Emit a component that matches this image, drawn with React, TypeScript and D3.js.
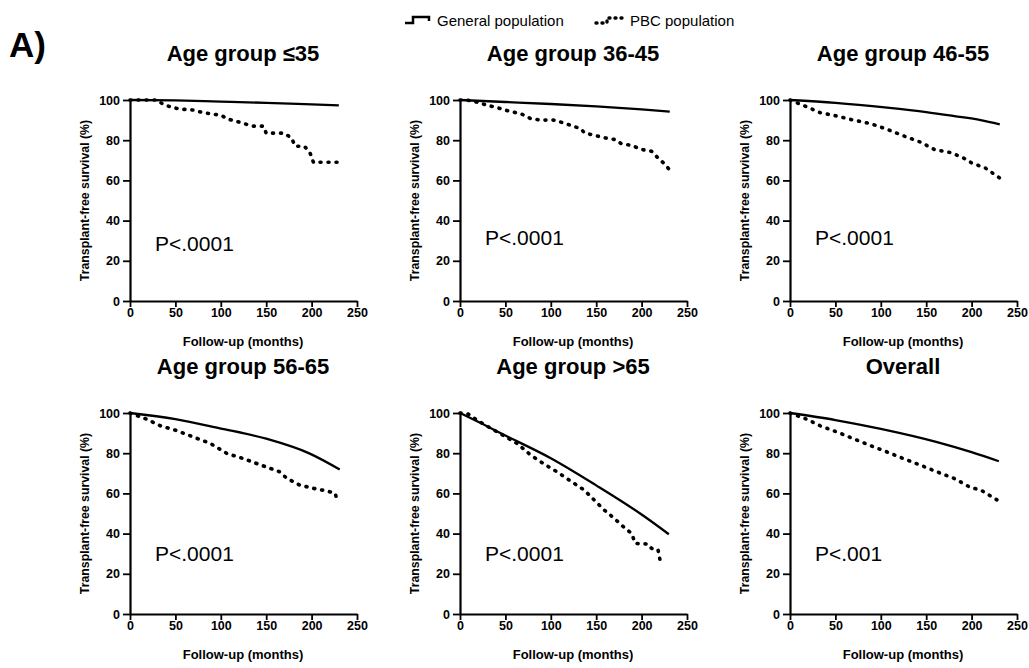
import React, { useEffect, useRef } from "react";
import * as d3 from "d3";

// panel titles and p-values
const panelTitles = [
  "Age group \u226435",
  "Age group 36-45",
  "Age group 46-55",
  "Age group 56-65",
  "Age group >65",
  "Overall",
];
const pValues = ["P<.0001", "P<.0001", "P<.0001", "P<.0001", "P<.0001", "P<.001"];

const xTicks = [0, 50, 100, 150, 200, 250];
const yTicks = [0, 20, 40, 60, 80, 100];

// [month, survival %]
const general35 = [[0, 100], [50, 99.8], [100, 99.2], [150, 98.6], [200, 97.8], [230, 97.3]];
const pbc35 = [
  [0, 100], [30, 100], [36, 98], [45, 96.5], [55, 95.5], [70, 95], [78, 94], [90, 93],
  [100, 92.5], [108, 90.5], [120, 89], [135, 87], [147, 87], [150, 83.5], [170, 83.5],
  [178, 81], [182, 77], [192, 77], [198, 74], [202, 69], [230, 69],
];

const general3645 = [[0, 100], [50, 99], [100, 98], [150, 96.8], [200, 95.3], [231, 94.2]];
const pbc3645 = [
  [0, 100], [7, 100], [18, 99], [30, 97.4], [41, 96.2], [56, 94.2], [67, 93.2], [78, 90.7],
  [89, 90], [103, 90], [111, 89], [122, 87.4], [133, 85.7], [137, 83.7], [148, 82.4],
  [159, 81.2], [170, 80.4], [178, 78.2], [189, 77.4], [200, 75.4], [211, 74.5],
  [218, 71.2], [226, 67.9], [231, 65.1],
];

const general4655 = [[0, 100], [50, 98.6], [107, 96.2], [150, 94], [181, 92], [210, 90], [231, 87.9]];
const pbc4655 = [
  [0, 100], [18, 96.7], [33, 93.7], [52, 92], [70, 90], [89, 88.2], [107, 85.4], [126, 82],
  [144, 79], [159, 75.4], [178, 73.7], [193, 70.7], [200, 68.7], [215, 66.2], [231, 61.2],
];

const general5665 = [[0, 100], [50, 97], [99, 92.4], [150, 87.2], [198, 79.8], [231, 71.9]];
const pbc5665 = [
  [0, 100], [18, 97], [33, 93.7], [51, 91.3], [70, 88], [88, 85], [107, 79.8], [125, 77.3],
  [143, 74.3], [165, 70.7], [173, 67.4], [187, 64.1], [202, 62.5], [217, 61.2], [226, 60],
  [228, 56.7],
];

const general65 = [[0, 100], [25, 94.5], [50, 88.8], [100, 77.5], [150, 64], [200, 49.5], [230, 39.7]];
const pbc65 = [
  [0, 100], [9, 99.5], [18, 96.7], [30, 93.4], [44, 89.8], [63, 84.8], [78, 79], [93, 74.5],
  [107, 70.7], [126, 64.9], [137, 61.6], [148, 56.6], [159, 51.7], [170, 47.5], [182, 42.6],
  [189, 40.1], [193, 35.1], [207, 34.8], [211, 32.6], [218, 32.1], [221, 25.2], [224, 25.2],
];

const generalAll = [[0, 100], [50, 96.5], [100, 92.1], [162, 85.5], [200, 80.5], [230, 76]];
const pbcAll = [
  [0, 100], [18, 97], [33, 93.7], [52, 90.5], [70, 87.2], [88, 83.9], [107, 80.6], [125, 77.3],
  [144, 74], [162, 70.7], [181, 67.4], [199, 62.9], [210, 61.7], [230, 56.2],
];

const generalSeries = [general35, general3645, general4655, general5665, general65, generalAll];
const pbcSeries = [pbc35, pbc3645, pbc4655, pbc5665, pbc65, pbcAll];

const FONT = "'Liberation Sans', Arial, Helvetica, sans-serif";

export default function App() {
  const ref = useRef<SVGSVGElement>(null);

  useEffect(() => {
    const svg = d3.select(ref.current);
    svg.selectAll("*").remove();

    const width = 1029;
    const height = 668;
    svg.append("rect").attr("width", width).attr("height", height).attr("fill", "#fff");

    const lefts = [130, 460, 790];
    const tops = [100, 413];
    const pw = 227;
    const ph = 201;
    const pLabelY = [25, 28, 28, 26.5, 26.5, 26.5];

    // figure letter
    svg.append("text")
      .attr("x", 9).attr("y", 57)
      .style("font-family", FONT).style("font-weight", "bold").style("font-size", "35px")
      .text("A)");

    // legend
    const legend = svg.append("g");
    legend.append("path")
      .attr("d", "M405,23H413V17H429V21")
      .attr("fill", "none").attr("stroke", "#000").attr("stroke-width", 2.5);
    legend.append("text")
      .attr("x", 437).attr("y", 26)
      .style("font-family", FONT).style("font-size", "15px")
      .text("General population");
    legend.append("path")
      .attr("d", "M596,23H607V18H623V22")
      .attr("fill", "none").attr("stroke", "#000").attr("stroke-width", 3.4)
      .attr("stroke-dasharray", "1 5").attr("stroke-linecap", "round");
    legend.append("text")
      .attr("x", 630).attr("y", 26)
      .style("font-family", FONT).style("font-size", "15px")
      .text("PBC population");

    panelTitles.forEach((title, i) => {
      const left = lefts[i % 3];
      const top = tops[Math.floor(i / 3)];

      const x = d3.scaleLinear().domain([0, 250]).range([left, left + pw]);
      const y = d3.scaleLinear().domain([0, 100]).range([top + ph, top]);

      const g = svg.append("g");

      g.append("text")
        .attr("x", left + 113).attr("y", top - 39)
        .attr("text-anchor", "middle")
        .style("font-family", FONT).style("font-weight", "bold").style("font-size", "22px")
        .text(title);

      const xAxis = g.append("g")
        .attr("transform", `translate(0,${top + ph})`)
        .call(d3.axisBottom(x).tickValues(xTicks).tickSize(6).tickSizeOuter(0).tickPadding(1));
      const yAxis = g.append("g")
        .attr("transform", `translate(${left},0)`)
        .call(d3.axisLeft(y).tickValues(yTicks).tickSize(7).tickSizeOuter(0).tickPadding(3));

      [xAxis, yAxis].forEach((ax) => {
        ax.select(".domain").attr("stroke-width", 2.2);
        ax.selectAll(".tick line").attr("stroke-width", 1.8);
        ax.selectAll(".tick text")
          .style("font-family", FONT).style("font-weight", "bold").style("font-size", "12.5px")
          .attr("fill", "#000");
      });

      g.append("text")
        .attr("x", left + 113).attr("y", top + ph + 45)
        .attr("text-anchor", "middle")
        .style("font-family", FONT).style("font-weight", "bold").style("font-size", "13px")
        .text("Follow-up (months)");

      g.append("text")
        .attr("transform", `translate(${left - 41},${top + ph / 2}) rotate(-90)`)
        .attr("text-anchor", "middle")
        .style("font-family", FONT).style("font-weight", "bold").style("font-size", "12.3px")
        .text("Transplant-free survival (%)");

      const smooth = d3.line<number[]>()
        .x((d) => x(d[0]))
        .y((d) => y(d[1]))
        .curve(d3.curveMonotoneX);

      const line = d3.line<number[]>()
        .x((d) => x(d[0]))
        .y((d) => y(d[1]));

      g.append("path")
        .datum(generalSeries[i])
        .attr("d", smooth)
        .attr("fill", "none").attr("stroke", "#000").attr("stroke-width", 2.3);

      g.append("path")
        .datum(pbcSeries[i])
        .attr("d", line)
        .attr("fill", "none").attr("stroke", "#000").attr("stroke-width", 3.6)
        .attr("stroke-dasharray", "1 7").attr("stroke-linecap", "round")
        .attr("stroke-linejoin", "round");

      g.append("text")
        .attr("x", left + 25).attr("y", y(pLabelY[i]))
        .style("font-family", FONT).style("font-size", "21px")
        .text(pValues[i]);
    });
  }, []);

  return (
    <svg
      ref={ref}
      width={1029}
      height={668}
      style={{ position: "absolute", left: 0, top: 0, display: "block" }}
    />
  );
}
